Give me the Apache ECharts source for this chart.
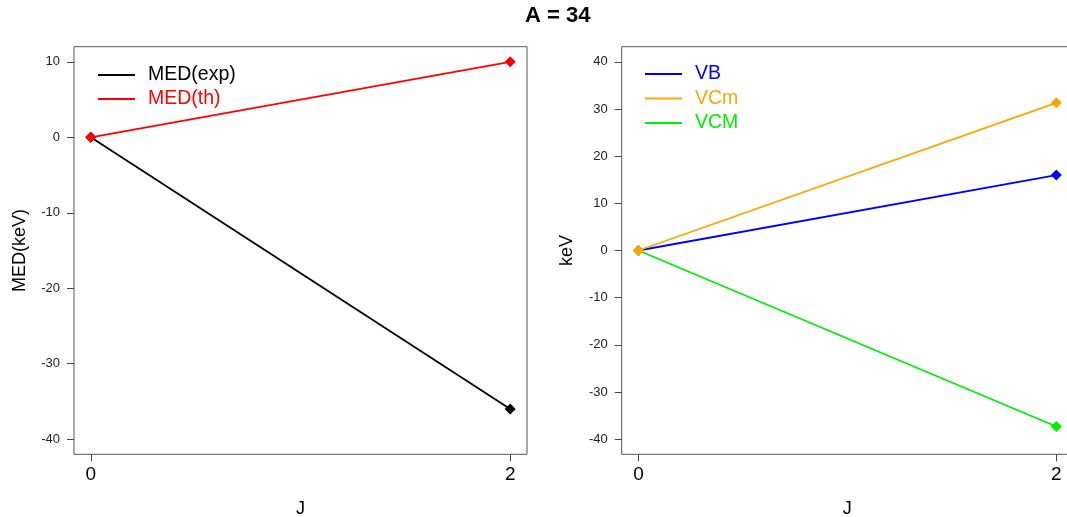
<!DOCTYPE html>
<html><head><meta charset="utf-8">
<script src="https://cdn.jsdelivr.net/npm/echarts@6/dist/echarts.min.js"></script>
<style>html,body{margin:0;padding:0;background:#fff}#c{width:1067px;height:517px}</style>
</head><body><div id="c"></div>
<script>
const J = [0, 2];
const medExp = [0, -36];
const medTh = [0, 10];
const VB = [0, 16];
const VCm = [0, 31.3];
const VCM = [0, -37.3];
const xTicks = [0, 2];
const yTicksLeft = [-40, -30, -20, -10, 0, 10];
const yTicksRight = [-40, -30, -20, -10, 0, 10, 20, 30, 40];

const FONT = 'Liberation Sans, Arial, sans-serif';
const pts = arr => J.map((x, i) => [x, arr[i]]);

function xAxis(idx) {
  return {
    type: 'value', gridIndex: idx, min: -0.08, max: 2.08, position: 'bottom',
    name: 'J', nameLocation: 'middle', nameGap: 46,
    nameTextStyle: {fontFamily: FONT, fontSize: 18, color: '#000'},
    axisLine: {show: false, onZero: false}, splitLine: {show: false},
    axisTick: {show: true, length: 7, customValues: xTicks, lineStyle: {color: '#444'}},
    axisLabel: {customValues: xTicks, fontFamily: FONT, fontSize: 19, color: '#000', margin: 11}
  };
}
function yAxis(idx, min, max, ticks, name, gap) {
  return {
    type: 'value', gridIndex: idx, min: min, max: max, position: 'left',
    name: name, nameLocation: 'middle', nameGap: gap,
    nameTextStyle: {fontFamily: FONT, fontSize: 18, color: '#000'},
    axisLine: {show: false, onZero: false}, splitLine: {show: false},
    axisTick: {show: true, length: 7, customValues: ticks, lineStyle: {color: '#444'}},
    axisLabel: {customValues: ticks, fontFamily: FONT, fontSize: 13, color: '#222', margin: 14}
  };
}
function line(name, data, color, xi, yi, z) {
  return {
    name: name, type: 'line', xAxisIndex: xi, yAxisIndex: yi, data: pts(data),
    symbol: 'diamond', symbolSize: 11, showSymbol: true, z: z,
    lineStyle: {color: color, width: 1.8}, itemStyle: {color: color},
    emphasis: {disabled: true}, animation: false
  };
}
const icon = 'path://M0,0 L37,0 L37,2 L0,2 Z';
const chart = echarts.init(document.getElementById('c'));
chart.setOption({
  backgroundColor: '#fff',
  animation: false,
  title: {text: 'A = 34', left: 520, top: 0,
    textStyle: {fontFamily: FONT, fontSize: 22, fontWeight: 'bold', color: '#000'}},
  grid: [
    {left: 74, top: 46.7, width: 453, height: 407.6, show: true, borderColor: '#555', borderWidth: 1, outerBoundsMode: 'none', containLabel: false},
    {left: 621.7, top: 46.7, width: 451.3, height: 407.6, show: true, borderColor: '#555', borderWidth: 1, outerBoundsMode: 'none', containLabel: false}
  ],
  xAxis: [xAxis(0), xAxis(1)],
  yAxis: [
    yAxis(0, -42, 12, yTicksLeft, 'MED(keV)', 45),
    yAxis(1, -43.2, 43.2, yTicksRight, 'keV', 46)
  ],
  legend: [
    {left: 93, top: 60, orient: 'vertical', itemGap: 4, itemWidth: 37, itemHeight: 2, icon: icon,
      textStyle: {fontFamily: FONT, fontSize: 19.5, padding: [0, 0, 0, 8]},
      data: [{name: 'MED(exp)', textStyle: {color: '#000'}}, {name: 'MED(th)', textStyle: {color: '#ff0000'}}]},
    {left: 640, top: 59, orient: 'vertical', itemGap: 4.5, itemWidth: 37, itemHeight: 2, icon: icon,
      textStyle: {fontFamily: FONT, fontSize: 19.5, padding: [0, 0, 0, 8]},
      data: [{name: 'VB', textStyle: {color: '#0000ff'}}, {name: 'VCm', textStyle: {color: '#ffa500'}}, {name: 'VCM', textStyle: {color: '#00ee00'}}]}
  ],
  series: [
    line('MED(exp)', medExp, '#000000', 0, 0, 2),
    line('MED(th)', medTh, '#ff0000', 0, 0, 3),
    line('VB', VB, '#0000ff', 1, 1, 2),
    line('VCM', VCM, '#00ee00', 1, 1, 3),
    line('VCm', VCm, '#ffa500', 1, 1, 4)
  ]
});
</script></body></html>
